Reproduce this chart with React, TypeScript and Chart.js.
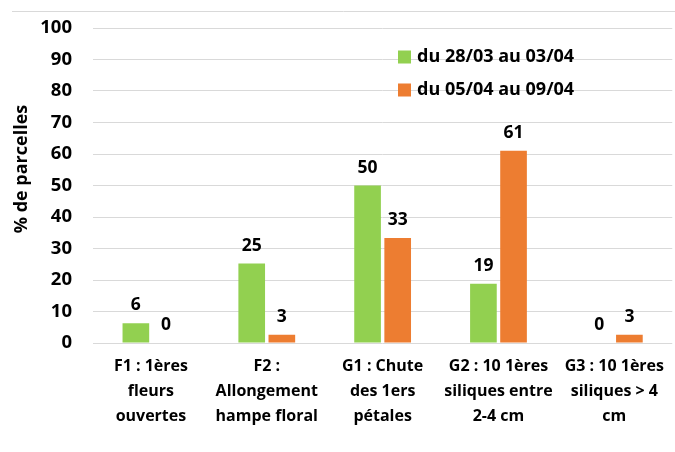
import React, { useEffect, useRef } from "react";
import { Chart, registerables } from "chart.js";

Chart.register(...registerables);

const categories: string[][] = [
  ["F1 : 1ères", "fleurs", "ouvertes"],
  ["F2 :", "Allongement", "hampe floral"],
  ["G1 : Chute", "des 1ers", "pétales"],
  ["G2 : 10 1ères", "siliques entre", "2-4 cm"],
  ["G3 : 10 1ères", "siliques > 4", "cm"],
];
const seriesNames = ["du 28/03 au 03/04", "du 05/04 au 09/04"];
const week1 = [6.3, 25.2, 50, 18.8, 0];
const week2 = [0, 2.6, 33.3, 61, 2.6];
const yTicks = [0, 10, 20, 30, 40, 50, 60, 70, 80, 90, 100];
const yTitle = "% de parcelles";

const GREEN = "#92d050";
const ORANGE = "#ed7d31";
const FONT = "'Open Sans', sans-serif";

const labelsPlugin = {
  id: "valueLabels",
  afterDatasetsDraw(chart: any) {
    const ctx = chart.ctx;
    ctx.save();
    ctx.font = `bold 17.5px ${FONT}`;
    ctx.fillStyle = "#000";
    ctx.textAlign = "center";
    ctx.textBaseline = "alphabetic";
    chart.data.datasets.forEach((ds: any, i: number) => {
      const meta = chart.getDatasetMeta(i);
      meta.data.forEach((el: any, j: number) => {
        const v = ds.data[j];
        ctx.fillText(String(Math.round(v)), el.x, el.y - 13);
      });
    });
    ctx.restore();
  },
};

const legendPlugin = {
  id: "innerLegend",
  afterDraw(chart: any) {
    const ctx = chart.ctx;
    ctx.save();
    // outer frame top line
    ctx.strokeStyle = "#d9d9d9";
    ctx.lineWidth = 1;
    ctx.beginPath();
    ctx.moveTo(12, 11.5);
    ctx.lineTo(chart.width, 11.5);
    ctx.stroke();
    // y axis title
    ctx.save();
    ctx.translate(22, 169);
    ctx.rotate(-Math.PI / 2);
    ctx.font = `bold 18px ${FONT}`;
    ctx.fillStyle = "#000";
    ctx.textAlign = "center";
    ctx.textBaseline = "middle";
    ctx.fillText(yTitle, 0, 0);
    ctx.restore();
    // legend
    ctx.font = `bold 18px ${FONT}`;
    ctx.textBaseline = "middle";
    ctx.textAlign = "left";
    const colors = [GREEN, ORANGE];
    seriesNames.forEach((name, i) => {
      const y = 57 + i * 33;
      ctx.fillStyle = colors[i];
      ctx.fillRect(398, y - 6.5, 13, 13);
      ctx.fillStyle = "#000";
      ctx.fillText(name, 417, y);
    });
    ctx.restore();
  },
};

export default function App() {
  const ref = useRef<HTMLCanvasElement | null>(null);
  useEffect(() => {
    if (!ref.current) return;
    const chart = new Chart(ref.current, {
      type: "bar",
      data: {
        labels: categories,
        datasets: [
          { label: seriesNames[0], data: week1, backgroundColor: GREEN },
          { label: seriesNames[1], data: week2, backgroundColor: ORANGE },
        ],
      },
      options: {
        animation: false,
        responsive: false,
        maintainAspectRatio: false,
        layout: { padding: { left: 0, top: 28, right: 0, bottom: 0 } },
        datasets: {
          bar: { categoryPercentage: 0.52, barPercentage: 0.885 },
        } as any,
        plugins: {
          legend: { display: false },
          tooltip: { enabled: false },
        },
        scales: {
          x: {
            grid: { display: false, drawTicks: false },
            border: { display: false },
            ticks: {
              color: "#000",
              font: { family: FONT, weight: "bold", size: 16, lineHeight: 1.55 },
              padding: 11,
              maxRotation: 0,
              autoSkip: false,
            },
            afterFit(scale: any) {
              scale.height = 452 - 343;
            },
          },
          y: {
            min: 0,
            max: 100,
            afterBuildTicks(scale: any) {
              scale.ticks = yTicks.map((v) => ({ value: v }));
            },
            grid: {
              color: "#d9d9d9",
              drawTicks: true,
              tickLength: 21,
              tickColor: "rgba(0,0,0,0)",
              lineWidth: 1,
            },
            border: { display: false },
            ticks: {
              color: "#000",
              font: { family: FONT, weight: "bold", size: 18.5 },
              padding: 0,
            },
            afterFit(scale: any) {
              scale.width = 93;
            },
          },
        },
      },
      plugins: [labelsPlugin, legendPlugin],
    } as any);
    return () => chart.destroy();
  }, []);
  return (
    <div style={{ position: "fixed", left: 0, top: 0, width: 675, height: 452, background: "#fff" }}>
      <canvas ref={ref} width={675} height={452} style={{ width: 675, height: 452 }} />
    </div>
  );
}
